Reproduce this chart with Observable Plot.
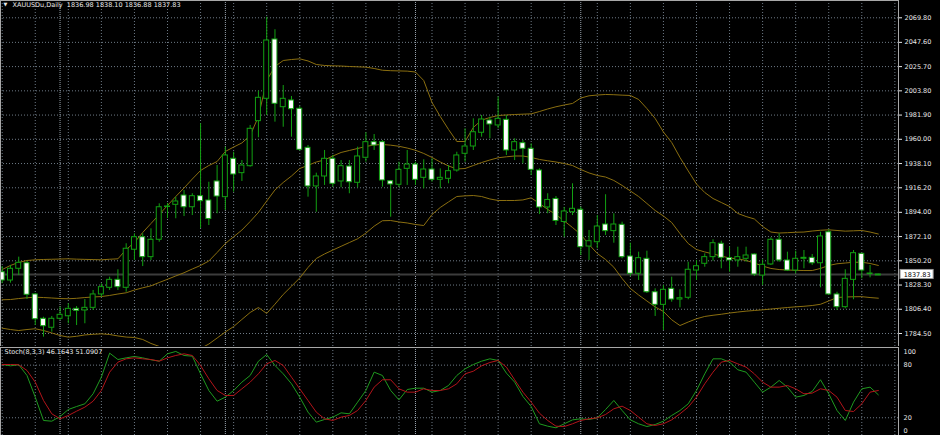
<!DOCTYPE html>
<html><head><meta charset="utf-8">
<script src="https://cdn.jsdelivr.net/npm/d3@7"></script>
<script src="https://cdn.jsdelivr.net/npm/@observablehq/plot@0.6"></script>
<style>
html,body{margin:0;padding:0;background:#000;}
#wrap{position:relative;width:940px;height:435px;overflow:hidden;background:#000;}
#price,#stoch{position:absolute;left:0;width:940px;overflow:hidden;}
#price{top:0;height:346px;}
#stoch{top:347px;height:88px;}
svg{display:block;}
</style></head><body>
<div id="wrap"><div id="price"></div><div id="stoch"></div></div>
<script>
// ---------- data ----------
const titleText = "XAUUSDu,Daily  1836.98 1838.10 1836.88 1837.83";
const stochText = "Stoch(8,3,3) 46.1643 51.0907";
const priceTicks = [1784.5, 1806.4, 1828.3, 1850.2, 1872.1, 1894.0, 1916.2, 1938.1, 1960.0, 1981.9, 2003.8, 2025.7, 2047.6, 2069.8];
const stochTickLabels = [100, 80, 20, 0];
const stochGrid = [80, 20];
const lastPrice = 1837.83;
const monthStarts = [7, 27, 50, 70];

const open = [1839.9,1832.4,1843.0,1848.0,1819.8,1797.8,1789.7,1797.8,1800.1,1806.8,
1805.3,1807.7,1819.8,1825.8,1833.0,1825.8,1860.2,1871.5,1853.5,1869.2,
1898.8,1900.8,1909.2,1898.6,1908.6,1904.7,1921.9,1907.7,1942.4,1929.4,
1935.7,1976.4,1996.6,2050.2,1989.0,1995.1,1987.6,1952.3,1917.4,1926.4,
1942.4,1921.9,1935.4,1920.7,1943.3,1957.4,1957.4,1922.1,1918.9,1933.3,
1937.2,1925.2,1932.7,1923.4,1924.3,1931.8,1946.9,1953.5,1965.9,1977.0,
1972.5,1977.6,1949.9,1956.5,1951.4,1931.8,1898.4,1906.1,1885.3,1894.1,
1896.3,1863.1,1867.0,1883.0,1877.0,1882.7,1854.1,1838.5,1852.0,1821.8,
1810.4,1824.9,1815.2,1816.8,1841.4,1847.5,1853.5,1865.6,1852.6,1850.5,
1852.0,1855.9,1836.9,1846.9,1869.2,1850.5,1841.4,1852.0,1852.9,1848.0,
1876.0,1819.8,1808.3,1833.0,1856.5,1838.2,1836.98];
const high = [1845.0,1846.0,1853.5,1849.8,1820.7,1799.2,1799.9,1808.3,1811.4,1808.9,
1815.2,1823.4,1829.4,1835.4,1842.1,1865.6,1874.6,1874.6,1879.1,1901.7,
1902.0,1907.7,1913.7,1910.8,1974.0,1921.2,1936.3,1952.9,1948.3,1940.8,
1972.5,2003.5,2070.3,2059.0,2008.6,1998.7,1989.6,1954.4,1929.4,1949.9,
1945.4,1940.8,1940.8,1952.9,1965.9,1964.3,1958.9,1922.8,1939.3,1949.9,
1939.3,1941.5,1942.4,1933.3,1936.3,1948.3,1969.5,1978.5,1981.5,1980.0,
1998.1,1981.5,1960.5,1958.9,1955.9,1933.3,1910.8,1908.3,1898.4,1919.8,
1898.6,1877.6,1891.1,1909.9,1892.7,1885.1,1866.1,1858.0,1858.9,1824.9,
1827.9,1835.4,1824.0,1848.9,1850.5,1856.5,1869.2,1867.9,1862.5,1862.5,
1862.5,1856.5,1851.1,1871.0,1874.6,1858.0,1858.9,1859.5,1855.9,1876.0,
1878.2,1821.8,1842.1,1859.5,1857.1,1846.0,1838.10];
const low = [1829.7,1830.0,1836.9,1815.2,1791.7,1781.2,1785.7,1796.3,1793.3,1791.7,
1793.3,1805.3,1817.3,1823.4,1823.4,1821.8,1850.5,1845.0,1850.5,1867.0,
1888.4,1888.2,1890.2,1891.1,1879.4,1882.1,1892.7,1895.7,1912.2,1921.9,
1934.8,1961.4,1981.5,1975.5,1970.9,1961.9,1949.4,1907.7,1894.1,1918.3,
1916.7,1916.2,1910.8,1916.2,1939.3,1949.9,1916.7,1889.6,1916.2,1918.3,
1918.3,1915.3,1921.2,1915.3,1919.8,1930.3,1939.3,1949.9,1961.9,1960.5,
1969.5,1945.4,1940.8,1937.9,1927.3,1892.0,1892.7,1882.1,1871.5,1891.1,
1855.0,1850.5,1861.1,1873.1,1866.1,1852.0,1836.0,1832.4,1820.7,1799.9,
1787.2,1812.8,1807.7,1815.0,1832.4,1844.4,1849.8,1843.0,1839.9,1844.4,
1848.9,1836.0,1827.9,1846.0,1848.9,1840.5,1838.5,1843.0,1846.0,1825.8,
1818.9,1805.3,1806.8,1815.0,1833.9,1834.8,1836.88];
const close = [1832.4,1843.0,1848.4,1819.5,1797.4,1791.1,1797.8,1801.4,1806.8,1805.0,
1807.7,1819.8,1826.4,1833.0,1826.4,1861.1,1871.5,1853.5,1869.2,1898.6,
1899.3,1903.8,1898.6,1908.6,1904.1,1888.0,1908.3,1945.4,1928.2,1936.3,
1969.5,1997.5,2049.3,1992.1,1996.6,1987.2,1950.5,1917.4,1926.4,1942.4,
1919.8,1935.7,1921.2,1944.5,1957.4,1954.4,1922.8,1919.2,1932.4,1937.2,
1923.4,1932.7,1923.4,1925.2,1931.2,1945.4,1953.5,1966.4,1977.9,1973.4,
1978.5,1949.9,1957.4,1951.4,1932.4,1898.4,1905.2,1886.2,1894.8,1897.2,
1862.5,1867.9,1881.2,1877.0,1883.0,1853.5,1838.5,1852.6,1821.8,1810.4,
1824.0,1815.2,1816.4,1842.1,1845.3,1853.5,1866.1,1852.9,1850.5,1853.5,
1855.0,1837.8,1846.6,1869.2,1850.5,1841.4,1852.0,1852.9,1848.0,1872.2,
1819.8,1808.3,1833.9,1857.1,1841.4,1838.7,1837.83];

const bbUpper = [1842.3,1846.0,1848.7,1850.5,1851.1,1851.4,1851.6,1851.8,1852.0,1851.7,
1851.5,1851.3,1851.1,1851.6,1852.0,1860.4,1866.7,1875.8,1883.9,1892.0,
1900.2,1908.3,1916.0,1924.1,1931.8,1936.3,1939.9,1949.0,1953.0,1956.7,
1963.4,1980.6,2013.1,2025.8,2031.2,2032.1,2032.7,2030.8,2027.6,2026.7,
2026.4,2026.2,2025.8,2025.5,2025.2,2024.0,2022.4,2022.0,2021.8,2021.6,
2020.8,2013.1,1993.3,1980.6,1968.9,1958.0,1958.0,1970.7,1977.3,1979.7,
1981.5,1982.0,1982.4,1982.7,1983.0,1985.1,1987.4,1989.4,1991.0,1992.4,
1997.3,1999.3,2000.0,2000.5,2000.3,1999.9,1999.6,1996.0,1987.8,1978.8,
1966.6,1957.1,1943.6,1931.4,1919.6,1911.9,1906.5,1902.9,1899.3,1893.0,
1890.2,1888.0,1881.2,1876.2,1875.3,1875.6,1876.0,1876.2,1877.1,1877.8,
1878.2,1877.6,1877.0,1877.3,1877.6,1876.2,1874.4];
const bbMiddle = [1815.0,1815.2,1816.1,1816.8,1817.3,1817.0,1816.6,1816.1,1815.9,1816.3,
1817.0,1817.5,1817.9,1818.9,1820.2,1821.3,1823.8,1825.8,1827.6,1830.6,
1833.5,1836.5,1839.4,1842.8,1846.0,1850.0,1857.7,1865.8,1871.9,1878.0,
1885.7,1893.9,1904.2,1914.2,1921.0,1926.8,1933.6,1936.5,1939.5,1941.3,
1944.9,1948.1,1949.9,1951.7,1953.5,1954.9,1955.3,1954.7,1953.7,1952.1,
1950.1,1947.2,1943.6,1939.5,1935.9,1933.2,1933.6,1936.3,1939.0,1941.3,
1943.3,1944.2,1944.9,1944.9,1943.6,1941.8,1940.6,1939.5,1938.1,1936.3,
1932.7,1929.6,1927.3,1925.9,1922.8,1918.3,1913.3,1908.3,1902.0,1895.7,
1890.7,1884.8,1874.9,1865.8,1860.4,1858.2,1856.4,1854.5,1852.7,1852.0,
1850.5,1848.2,1845.5,1843.3,1842.3,1841.9,1841.6,1841.4,1841.4,1843.3,
1846.0,1847.5,1848.2,1848.9,1848.9,1847.8,1846.0];
const bbLower = [1789.3,1788.1,1787.2,1788.1,1788.8,1787.2,1785.0,1782.7,1781.2,1782.0,
1783.2,1783.8,1784.2,1783.6,1782.3,1781.3,1780.9,1779.1,1775.5,1772.8,
1769.6,1767.3,1766.4,1767.3,1771.0,1775.0,1780.4,1785.9,1790.8,1797.2,
1803.5,1808.0,1802.6,1811.0,1819.8,1827.2,1834.7,1844.2,1852.3,1856.4,
1859.9,1863.3,1866.7,1870.1,1875.2,1881.5,1886.4,1886.6,1885.3,1884.4,
1883.0,1882.1,1892.0,1898.4,1903.4,1908.3,1908.9,1909.2,1908.3,1906.1,
1904.7,1904.7,1904.7,1905.2,1907.1,1902.0,1896.6,1892.0,1886.2,1880.3,
1874.0,1864.9,1856.8,1851.4,1844.4,1834.2,1825.2,1819.3,1813.9,1808.5,
1804.4,1796.9,1791.7,1794.9,1797.8,1799.9,1801.0,1801.9,1803.0,1803.9,
1804.7,1805.3,1805.9,1806.6,1807.3,1808.0,1808.6,1809.1,1809.8,1810.9,
1813.9,1817.0,1817.5,1817.7,1817.8,1817.0,1816.4];

const stochMain = [80.7,79.2,80.4,68.2,43.5,16.9,16.1,21.4,29.4,32.8,
35.9,47.3,66.3,93.7,86.4,88.3,89.9,88.3,86.1,84.5,
92.9,95.6,91.0,90.2,70.1,51.1,38.9,43.5,51.1,60.6,
68.2,84.5,92.1,79.6,70.1,58.7,43.5,26.4,15.0,18.0,
20.7,25.6,24.5,37.8,51.1,72.0,68.2,51.1,40.4,52.2,
53.7,53.7,49.2,51.1,56.8,68.2,75.8,80.7,84.5,87.2,
85.3,70.9,60.6,44.3,32.8,13.1,10.4,8.5,13.1,17.6,
18.8,18.0,19.9,29.4,39.7,28.3,17.6,13.1,10.0,12.3,
16.1,22.6,28.3,35.9,51.1,70.1,87.2,87.2,83.4,74.7,
72.0,60.6,49.2,54.9,62.5,54.9,43.5,45.4,50.0,63.3,
47.3,28.3,16.9,37.8,53.0,54.9,46.1643];
const stochSignal = [80.7,80.7,80.4,73.9,60.6,39.7,24.5,18.8,22.6,27.5,
32.1,38.9,51.1,72.0,83.4,87.2,88.3,87.2,86.4,84.5,
88.3,91.0,92.9,91.0,79.6,64.4,51.1,45.4,45.4,53.0,
60.6,70.1,81.5,85.3,79.6,66.3,53.0,39.7,26.4,18.8,
16.9,20.7,22.6,28.3,39.7,54.9,63.3,63.3,53.0,49.2,
49.2,53.0,51.1,51.1,53.0,58.7,70.1,73.1,79.2,83.0,
85.3,77.7,63.3,49.2,37.8,25.2,16.9,10.4,10.0,13.1,
16.9,18.8,19.9,23.7,30.2,33.2,28.3,20.7,13.1,11.2,
13.1,17.6,24.5,32.1,43.5,58.7,72.0,83.4,85.3,81.5,
77.7,70.1,60.6,54.9,54.9,56.8,53.0,47.3,48.1,53.0,
51.1,43.5,28.3,27.1,35.9,49.2,51.0907];

// ---------- styling ----------
const candleGreen = "#12a012";
const bandColor = "#8b6f10";
const gridColor = "#6e7a86";
const sepColor = "#9aa4ae";
const frameColor = "#a8a8a8";
const textColor = "#e8e8e8";
const font = "Tahoma, 'DejaVu Sans', sans-serif";
const fs = 6.5;

const candles = open.map((o, i) => ({i, o, h: high[i], l: low[i], c: close[i]}));
const bull = candles.filter(d => d.c >= d.o);
const bear = candles.filter(d => d.c < d.o);
const xDomain = [-0.206, 108.44];
const gridBars = d3.range(0, 109, 4);
const idx = (d, i) => i;
const val = d => d;
const half = 0.3;

const price = Plot.plot({
  width: 940, height: 346,
  marginLeft: 0, marginRight: 42, marginTop: 0, marginBottom: 0,
  style: {background: "#000", color: textColor, fontFamily: font, fontSize: fs + "px"},
  x: {domain: xDomain, axis: null},
  y: {domain: [1772.76, 2085.43], axis: "right", ticks: priceTicks, tickFormat: d => d.toFixed(2), tickSize: 3, tickPadding: 3, label: null},
  marks: [
    Plot.ruleY(priceTicks, {stroke: gridColor, strokeDasharray: "1,2"}),
    Plot.ruleX(gridBars, {stroke: gridColor, strokeDasharray: "1,2"}),
    Plot.ruleX(monthStarts, {stroke: sepColor, strokeDasharray: "1,1"}),
    Plot.ruleY([lastPrice], {stroke: "#3c3c3c", strokeWidth: 2}),
    Plot.line(bbUpper, {x: idx, y: val, stroke: bandColor, strokeWidth: 1, clip: true}),
    Plot.line(bbMiddle, {x: idx, y: val, stroke: bandColor, strokeWidth: 1, clip: true}),
    Plot.line(bbLower, {x: idx, y: val, stroke: bandColor, strokeWidth: 1, clip: true}),
    Plot.ruleX(candles, {x: "i", y1: "l", y2: "h", stroke: candleGreen, strokeWidth: 1}),
    Plot.rect(bull, {x1: d => d.i - half, x2: d => d.i + half, y1: "o", y2: "c", fill: "#000", stroke: candleGreen, strokeWidth: 1}),
    Plot.rect(bear, {x1: d => d.i - half, x2: d => d.i + half, y1: "o", y2: "c", fill: "#fff", stroke: candleGreen, strokeWidth: 1}),
    Plot.frame({stroke: frameColor}),
    Plot.rect([lastPrice], {x1: xDomain[1] + 0.25, x2: xDomain[1] + 4.25, y1: d => d - 4.1, y2: d => d + 4.1, fill: "#fff", stroke: "#999"}),
    Plot.text([lastPrice], {x: xDomain[1] + 2.25, y: val, text: d => d.toFixed(2), fill: "#000", fontSize: fs, textAnchor: "middle"}),
    Plot.text(["\u25BC"], {frameAnchor: "top-left", dx: 3, dy: 2, fill: textColor, fontSize: 5, lineAnchor: "top"}),
    Plot.text([titleText], {frameAnchor: "top-left", dx: 12, dy: 2, fill: textColor, fontSize: fs, lineAnchor: "top"})
  ]
});
document.getElementById("price").appendChild(price);

const stoch = Plot.plot({
  width: 940, height: 88,
  marginLeft: 0, marginRight: 42, marginTop: 0, marginBottom: 0,
  style: {background: "#000", color: textColor, fontFamily: font, fontSize: fs + "px"},
  x: {domain: xDomain, axis: null},
  y: {domain: [-0.23, 100.1], axis: null},
  marks: [
    Plot.ruleY(stochGrid, {stroke: gridColor, strokeDasharray: "1,2"}),
    Plot.ruleX(gridBars, {stroke: gridColor, strokeDasharray: "1,2"}),
    Plot.ruleX(monthStarts, {stroke: sepColor, strokeDasharray: "1,1"}),
    Plot.line(stochMain, {x: idx, y: val, stroke: "#1f9a1f", strokeWidth: 1}),
    Plot.line(stochSignal, {x: idx, y: val, stroke: "#b3141a", strokeWidth: 1}),
    Plot.frame({stroke: frameColor}),
    Plot.text([stochText], {frameAnchor: "top-left", dx: 4, dy: 2, fill: textColor, fontSize: fs, lineAnchor: "top"}),
    Plot.text(stochTickLabels.filter(v => v === 100), {x: xDomain[1], y: val, text: d => String(d), dx: 5, dy: 4, textAnchor: "start", fill: textColor, fontSize: fs}),
    Plot.text(stochTickLabels.filter(v => v > 0 && v < 100), {x: xDomain[1], y: val, text: d => String(d), dx: 5, textAnchor: "start", fill: textColor, fontSize: fs}),
    Plot.text(stochTickLabels.filter(v => v === 0), {x: xDomain[1], y: val, text: d => String(d), dx: 5, dy: -4, textAnchor: "start", fill: textColor, fontSize: fs})
  ]
});
document.getElementById("stoch").appendChild(stoch);
</script>
</body></html>
